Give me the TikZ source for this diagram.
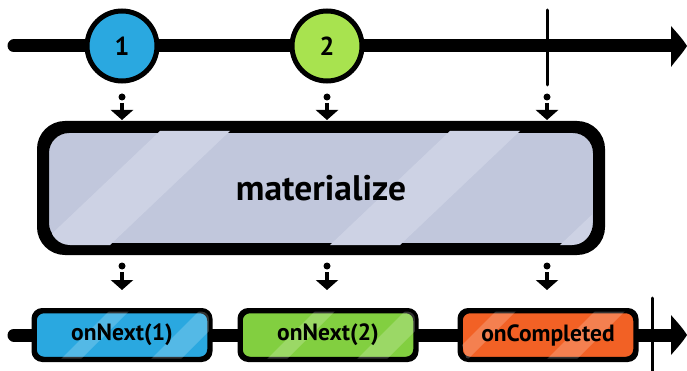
\documentclass[tikz,border=0pt]{standalone}
\usepackage{fontspec}
\setmainfont{PT Sans}
\usetikzlibrary{arrows.meta}
\definecolor{bluec}{HTML}{2AA8E0}
\definecolor{greenc}{HTML}{A8E34F}
\definecolor{greenb}{HTML}{82CF40}
\definecolor{orangec}{HTML}{F26125}
\definecolor{opfill}{HTML}{C1C7DC}
\definecolor{opstripe}{HTML}{CDD2E4}
\tikzset{
  timeline/.style={line width=13pt, line cap=round},
  marble/.style={circle, draw=black, line width=5pt, minimum size=70pt, inner sep=0pt, font=\bfseries\fontsize{26}{26}\selectfont},
  evbox/.style={rounded corners=9pt, draw=black, line width=3.5pt, minimum width=174pt, minimum height=47pt, inner sep=0pt},
  evlabel/.style={font=\bfseries\fontsize{23.5}{23.5}\selectfont},
  opbox/.style={rounded corners=24pt, draw=black, line width=8pt, minimum width=552pt, minimum height=118pt, inner sep=0pt},
  tickmark/.style={line width=3pt, line cap=round},
  flowarrow/.style={line width=3.5pt, -{Triangle[width=22pt,length=10pt]}},
  shine/.style={white,opacity=0.2},
}
\begin{document}
\begin{tikzpicture}[x=1pt,y=-1pt]
\useasboundingbox (0,0) rectangle (687,371);
% top timeline
\coordinate (ts) at (14,46);
\coordinate (te) at (675,46);
\draw[timeline] (ts) -- (te);
\fill (671,26) .. controls (676,32) and (682,38) .. (687,46) .. controls (682,54) and (676,60) .. (671,67) -- cycle;
\draw[tickmark] (547,10) -- (547,85);
\node[marble, fill=bluec] (m1) at (122,46) {1};
\node[marble, fill=greenc] (m2) at (327,46) {2};
\coordinate (m3) at (547,85);
% operator box
\node[opbox, fill=opfill] (op) at (321,188) {};
\begin{scope}
\clip[rounded corners=20pt] (50,131) rectangle (592,245);
\fill[opstripe] (40,245) -- (160,131) -- (230,131) -- (110,245) -- cycle;
\fill[opstripe] (330,245) -- (450,131) -- (520,131) -- (400,245) -- cycle;
\fill[opstripe] (560,245) -- (680,131) -- (720,131) -- (600,245) -- cycle;
\end{scope}
\draw[rounded corners=24pt, line width=8pt] (op.north west) rectangle (op.south east);
\node[font=\bfseries\fontsize{35.5}{35.5}\selectfont] (opl) at (op.center) {materialize};
% arrows into operator
\foreach \x in {122,327,547}{
  \fill (\x,97) circle (3.5pt);
  \draw[flowarrow] (\x,103) -- (\x,120);
}
% arrows out of operator
\foreach \x in {122,327,547}{
  \fill (\x,266) circle (3.5pt);
  \draw[flowarrow] (\x,272) -- (\x,290);
}
% bottom timeline
\coordinate (bs) at (14,335);
\coordinate (be) at (675,335);
\draw[timeline] (bs) -- (be);
\fill (671,315) .. controls (676,321) and (682,327) .. (687,335) .. controls (682,343) and (676,349) .. (671,355) -- cycle;
\draw[tickmark] (652,298) -- (652,371);
% event boxes
\node[evbox, fill=bluec] (e1) at (122,335) {};
\node[evbox, fill=greenb] (e2) at (328,335) {};
\node[evbox, fill=orangec] (e3) at (548,335) {};
\begin{scope}
\clip[rounded corners=8pt] (e1.north west) rectangle (e1.south east);
\fill[shine] (60,360) -- (110,310) -- (130,310) -- (80,360) -- cycle;
\fill[shine] (150,360) -- (200,310) -- (230,310) -- (180,360) -- cycle;
\end{scope}
\begin{scope}
\clip[rounded corners=8pt] (e2.north west) rectangle (e2.south east);
\fill[shine] (266,360) -- (316,310) -- (336,310) -- (286,360) -- cycle;
\fill[shine] (356,360) -- (406,310) -- (436,310) -- (386,360) -- cycle;
\end{scope}
\begin{scope}
\clip[rounded corners=8pt] (e3.north west) rectangle (e3.south east);
\fill[shine] (462,345) -- (497,310) -- (517,310) -- (467,360) -- cycle;
\fill[shine] (546,360) -- (596,310) -- (626,310) -- (576,360) -- cycle;
\end{scope}
\draw[rounded corners=9pt, line width=3.5pt] (e1.north west) rectangle (e1.south east);
\draw[rounded corners=9pt, line width=3.5pt] (e2.north west) rectangle (e2.south east);
\draw[rounded corners=9pt, line width=3.5pt] (e3.north west) rectangle (e3.south east);
\node[evlabel] (t1) at (e1.center) {onNext(1)};
\node[evlabel] (t2) at (e2.center) {onNext(2)};
\node[evlabel] (t3) at (e3.center) {onCompleted};
\end{tikzpicture}
\end{document}
